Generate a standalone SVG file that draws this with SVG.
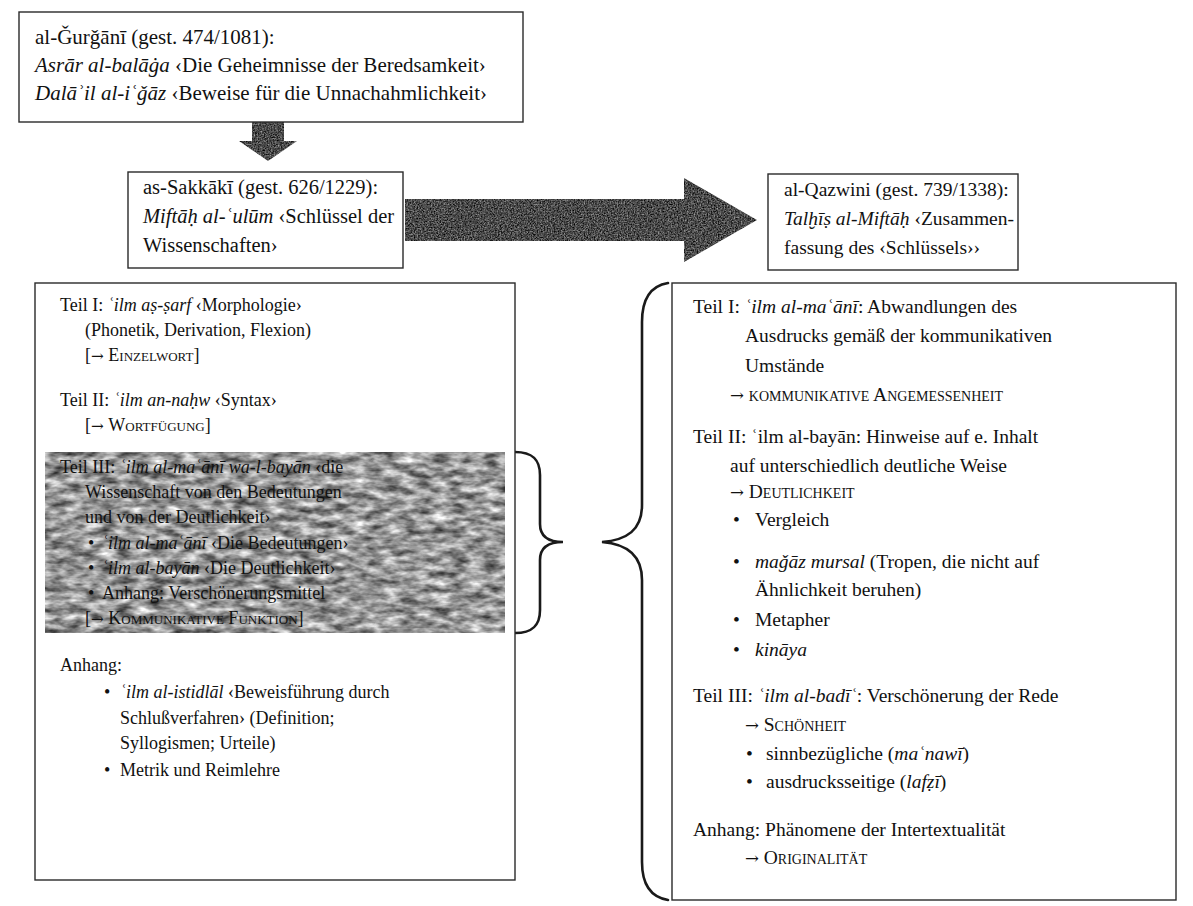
<svg xmlns="http://www.w3.org/2000/svg" width="1193" height="906" viewBox="0 0 1193 906">
<defs>
<style>
.box{fill:#fff;stroke:#2a2a2a;stroke-width:1.4}
.t{font-family:"Liberation Serif","Times New Roman",serif;fill:#111}
.tt{font-size:21px}
.ts{font-size:20.5px}
.tq{font-size:19.5px}
.tl{font-size:18px}
.tr{font-size:19.5px}
.sc{font-variant:small-caps}
.i{font-style:italic}
.ar{font-family:"DejaVu Serif",serif;font-size:0.85em}
.brace{fill:none;stroke:#1a1a1a;stroke-width:2.6;stroke-linecap:round}
</style>
<filter id="mottle" x="0" y="0" width="100%" height="100%" color-interpolation-filters="sRGB">
<feTurbulence type="fractalNoise" baseFrequency="0.06 0.14" numOctaves="3" seed="7" result="n"/>
<feColorMatrix in="n" type="matrix" values="1.15 0 0 0 0.02  1.15 0 0 0 0.02  1.15 0 0 0 0.02  0 0 0 0 1" result="g"/>
<feTurbulence type="fractalNoise" baseFrequency="0.9" numOctaves="1" seed="2" result="f"/>
<feColorMatrix in="f" type="matrix" values="0.6 0 0 0 -0.3  0.6 0 0 0 -0.3  0.6 0 0 0 -0.3  0 0 0 0 0" result="f2"/>
<feComposite in="g" in2="f2" operator="arithmetic" k2="1" k3="0.6" result="m"/>
<feComposite in="m" in2="SourceGraphic" operator="in"/>
</filter>
<filter id="dark" x="0" y="0" width="100%" height="100%" color-interpolation-filters="sRGB">
<feTurbulence type="fractalNoise" baseFrequency="0.7" numOctaves="2" seed="4" result="n"/>
<feColorMatrix in="n" type="matrix" values="0.9 0 0 0 -0.16  0.9 0 0 0 -0.16  0.9 0 0 0 -0.16  0 0 0 0 1" result="g"/>
<feComposite in="g" in2="SourceGraphic" operator="in"/>
</filter>
</defs>

<g id="connectors">
<polygon id="arrow-down" filter="url(#dark)" fill="#333" points="252,122 284,122 284,141 297,141 268,161 239,141 252,141"/>
<polygon id="arrow-right" filter="url(#dark)" fill="#333" points="405,199 684,199 684,178 757,220 684,262 684,241 405,241"/>
<path id="brace-small" class="brace" d="M515,452 C533,452 540,460 540,475 L540,524 C540,536 548,542 563,542 C548,542 540,548 540,560 L540,610 C540,625 533,633 515,633"/>
<path id="brace-big" class="brace" stroke-width="3" d="M668,283 C650,286 642,300 642,322 L642,505 C642,530 627,540 602,542 C627,544 642,555 642,580 L642,862 C642,884 650,897 668,900"/>
</g>

<g id="node-gurgani">
<rect class="box" x="19" y="12" width="504" height="110"/>
<text class="t tt" x="35" y="44">al-Ǧurǧānī (gest. 474/1081):</text>
<text class="t tt" x="35" y="72"><tspan class="i">Asrār al-balāġa</tspan> ‹Die Geheimnisse der Beredsamkeit›</text>
<text class="t tt" x="35" y="100"><tspan class="i">Dalāʾil al-iʿǧāz</tspan> ‹Beweise für die Unnachahmlichkeit›</text>
</g>

<g id="node-sakkaki">
<rect class="box" x="128" y="172" width="275" height="96"/>
<text class="t ts" x="143" y="194">as-Sakkākī (gest. 626/1229):</text>
<text class="t ts" x="143" y="223"><tspan class="i">Miftāḥ al-ʿulūm</tspan> ‹Schlüssel der</text>
<text class="t ts" x="143" y="252">Wissenschaften›</text>
</g>

<g id="node-qazwini">
<rect class="box" x="768" y="174" width="250" height="96"/>
<text class="t tq" x="784" y="196">al-Qazwini (gest. 739/1338):</text>
<text class="t tq" x="784" y="225"><tspan class="i">Talḫīṣ al-Miftāḥ</tspan> ‹Zusammen-</text>
<text class="t tq" x="784" y="254">fassung des ‹Schlüssels››</text>
</g>

<g id="node-miftah-content">
<rect class="box" x="35" y="283" width="480" height="597"/>
<rect id="shade-teil3" x="45" y="452" width="460" height="181" fill="#888" filter="url(#mottle)"/>
<text class="t tl" x="60" y="311">Teil I: <tspan class="i">ʿilm aṣ-ṣarf</tspan> ‹Morphologie›</text>
<text class="t tl" x="85" y="336">(Phonetik, Derivation, Flexion)</text>
<text class="t tl" x="85" y="361">[<tspan class="ar">→</tspan> <tspan class="sc">Einzelwort</tspan>]</text>
<text class="t tl" x="60" y="406">Teil II: <tspan class="i">ʿilm an-naḥw</tspan> ‹Syntax›</text>
<text class="t tl" x="85" y="431">[<tspan class="ar">→</tspan> <tspan class="sc">Wortfügung</tspan>]</text>
<text class="t tl" x="60" y="473">Teil III: <tspan class="i">ʿilm al-maʿānī wa-l-bayān</tspan> ‹die</text>
<text class="t tl" x="85" y="498">Wissenschaft von den Bedeutungen</text>
<text class="t tl" x="85" y="523">und von der Deutlichkeit›</text>
<text class="t tl" x="88" y="549">•</text><text class="t tl" x="102" y="549"><tspan class="i">ʿilm al-maʿānī</tspan> ‹Die Bedeutungen›</text>
<text class="t tl" x="88" y="574">•</text><text class="t tl" x="102" y="574"><tspan class="i">ʿilm al-bayān</tspan> ‹Die Deutlichkeit›</text>
<text class="t tl" x="88" y="599">•</text><text class="t tl" x="102" y="599">Anhang: Verschönerungsmittel</text>
<text class="t tl" x="85" y="624">[<tspan class="ar">→</tspan> <tspan class="sc">Kommunikative Funktion</tspan>]</text>
<text class="t tl" x="60" y="671">Anhang:</text>
<text class="t tl" x="104" y="698">•</text><text class="t tl" x="120" y="698"><tspan class="i">ʿilm al-istidlāl</tspan> ‹Beweisführung durch</text>
<text class="t tl" x="120" y="724">Schlußverfahren› (Definition;</text>
<text class="t tl" x="120" y="749">Syllogismen; Urteile)</text>
<text class="t tl" x="104" y="776">•</text><text class="t tl" x="120" y="776">Metrik und Reimlehre</text>
</g>

<g id="node-talhis-content">
<rect class="box" x="672" y="283" width="504" height="617"/>
<text class="t tr" x="693" y="313">Teil I: <tspan class="i">ʿilm al-maʿānī</tspan>: Abwandlungen des</text>
<text class="t tr" x="745" y="342">Ausdrucks gemäß der kommunikativen</text>
<text class="t tr" x="745" y="372">Umstände</text>
<text class="t tr" x="730" y="401"><tspan class="ar">→</tspan> <tspan class="sc">kommunikative Angemessenheit</tspan></text>
<text class="t tr" x="693" y="443">Teil II: ʿilm al-bayān: Hinweise auf e. Inhalt</text>
<text class="t tr" x="730" y="472">auf unterschiedlich deutliche Weise</text>
<text class="t tr" x="730" y="498"><tspan class="ar">→</tspan> <tspan class="sc">Deutlichkeit</tspan></text>
<text class="t tr" x="733" y="526">•</text><text class="t tr" x="755" y="526">Vergleich</text>
<text class="t tr" x="733" y="568">•</text><text class="t tr" x="755" y="568"><tspan class="i">maǧāz mursal</tspan> (Tropen, die nicht auf</text>
<text class="t tr" x="755" y="596">Ähnlichkeit beruhen)</text>
<text class="t tr" x="733" y="626">•</text><text class="t tr" x="755" y="626">Metapher</text>
<text class="t tr" x="733" y="656">•</text><text class="t tr" x="755" y="656"><tspan class="i">kināya</tspan></text>
<text class="t tr" x="693" y="702">Teil III: <tspan class="i">ʿilm al-badīʿ</tspan>: Verschönerung der Rede</text>
<text class="t tr" x="745" y="731"><tspan class="ar">→</tspan> <tspan class="sc">Schönheit</tspan></text>
<text class="t tr" x="746" y="760">•</text><text class="t tr" x="766" y="760">sinnbezügliche (<tspan class="i">maʿnawī</tspan>)</text>
<text class="t tr" x="746" y="788">•</text><text class="t tr" x="766" y="788">ausdrucksseitige (<tspan class="i">lafẓī</tspan>)</text>
<text class="t tr" x="693" y="836">Anhang: Phänomene der Intertextualität</text>
<text class="t tr" x="745" y="864"><tspan class="ar">→</tspan> <tspan class="sc">Originalität</tspan></text>
</g>
</svg>
